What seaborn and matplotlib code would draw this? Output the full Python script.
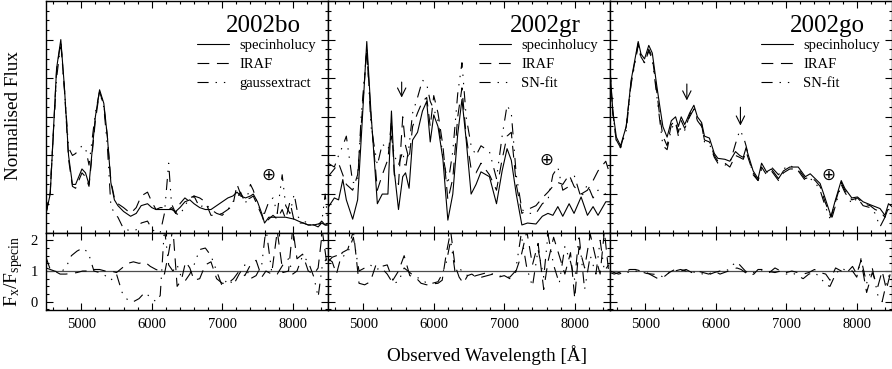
import numpy as np
import matplotlib
matplotlib.use("Agg")
import matplotlib.pyplot as plt
import seaborn as sns
from matplotlib.ticker import MultipleLocator, FixedLocator


# ---- spectra (normalised flux) ----
wave_bo = [4500, 4560, 4650, 4710, 4760, 4820, 4875, 4920, 5010, 5060,
           5110, 5200, 5260, 5320, 5370, 5420, 5470, 5520, 5600, 5700,
           5780, 5850, 5940, 6000, 6060, 6120, 6180, 6240, 6280, 6340,
           6400, 6470, 6540, 6600, 6680, 6760, 6840, 6920, 7000, 7080,
           7150, 7210, 7260, 7330, 7400, 7440, 7500, 7560, 7600, 7660,
           7720, 7780, 7850, 7900, 7960, 8020, 8080, 8150, 8220, 8300,
           8360, 8410, 8460, 8500]
spec_bo = [0.10, 0.20, 0.85, 1.00, 0.76, 0.40, 0.25, 0.25, 0.33, 0.31,
           0.25, 0.60, 0.74, 0.67, 0.50, 0.26, 0.17, 0.14, 0.11, 0.085,
           0.10, 0.14, 0.15, 0.13, 0.12, 0.12, 0.12, 0.12, 0.12, 0.11,
           0.13, 0.16, 0.17, 0.15, 0.13, 0.12, 0.12, 0.14, 0.16, 0.18,
           0.19, 0.21, 0.19, 0.18, 0.19, 0.20, 0.16, 0.10, 0.05, 0.08,
           0.08, 0.08, 0.08, 0.08, 0.075, 0.07, 0.06, 0.05, 0.04, 0.04,
           0.045, 0.05, 0.04, 0.04]
iraf_bo = [0.10, 0.21, 0.84, 0.99, 0.75, 0.38, 0.24, 0.23, 0.31, 0.29,
           0.24, 0.58, 0.73, 0.66, 0.50, 0.27, 0.18, 0.15, 0.13, 0.10,
           0.13, 0.19, 0.21, 0.16, 0.12, 0.13, 0.13, 0.12, 0.13, 0.10,
           0.15, 0.18, 0.16, 0.19, 0.18, 0.16, 0.09, 0.09, 0.10, 0.12,
           0.14, 0.25, 0.20, 0.17, 0.18, 0.19, 0.14, 0.09, 0.05, 0.07,
           0.09, 0.07, 0.12, 0.07, 0.16, 0.06, 0.05, 0.05, 0.04, 0.04,
           0.04, 0.06, 0.04, 0.04]
gauss_bo = [0.10, 0.22, 0.80, 0.98, 0.75, 0.44, 0.40, 0.41, 0.45, 0.44,
            0.35, 0.62, 0.73, 0.65, 0.45, 0.14, 0.10, 0.08, 0.02, 0.01,
            0.015, 0.05, 0.06, 0.02, 0.00, 0.00, 0.10, 0.36, 0.15, 0.10,
            0.09, 0.14, 0.18, 0.19, 0.13, 0.15, 0.12, 0.10, 0.09, 0.12,
            0.16, 0.18, 0.21, 0.15, 0.25, 0.22, 0.15, 0.10, 0.10, 0.16,
            0.18, 0.10, 0.30, 0.14, 0.10, 0.20, 0.08, 0.06, 0.05, 0.04,
            0.03, 0.05, 0.20, 0.05]

wave_gr = [4500, 4590, 4650, 4710, 4760, 4850, 4920, 4970, 5050, 5110,
           5200, 5270, 5350, 5400, 5440, 5500, 5560, 5600, 5650, 5700,
           5770, 5840, 5900, 5950, 6000, 6060, 6130, 6200, 6270, 6340,
           6400, 6460, 6530, 6600, 6670, 6790, 6890, 6970, 7040, 7100,
           7170, 7250, 7330, 7450, 7540, 7620, 7690, 7760, 7830, 7920,
           7990, 8090, 8180, 8260, 8330, 8440, 8500]
spec_gr = [0.13, 0.18, 0.17, 0.275, 0.17, 0.07, 0.17, 0.48, 0.99, 0.62,
           0.15, 0.20, 0.20, 0.63, 0.32, 0.12, 0.29, 0.31, 0.23, 0.48,
           0.52, 0.63, 0.68, 0.47, 0.61, 0.55, 0.38, 0.065, 0.20, 0.51,
           0.69, 0.48, 0.20, 0.25, 0.315, 0.29, 0.15, 0.32, 0.435, 0.375,
           0.20, 0.04, 0.05, 0.045, 0.085, 0.10, 0.09, 0.135, 0.085, 0.15,
           0.10, 0.185, 0.09, 0.135, 0.09, 0.16, 0.16]
iraf_gr = [0.29, 0.33, 0.36, 0.30, 0.25, 0.22, 0.30, 0.55, 0.95, 0.60,
           0.22, 0.30, 0.38, 0.58, 0.30, 0.25, 0.60, 0.45, 0.38, 0.55,
           0.62, 0.68, 0.70, 0.55, 0.71, 0.62, 0.45, 0.17, 0.28, 0.60,
           0.75, 0.50, 0.33, 0.31, 0.36, 0.30, 0.22, 0.38, 0.50, 0.52,
           0.25, 0.10, 0.12, 0.14, 0.18, 0.21, 0.24, 0.26, 0.25, 0.30,
           0.24, 0.20, 0.22, 0.27, 0.32, 0.37, 0.30]
snfit_gr = [0.36, 0.34, 0.40, 0.45, 0.50, 0.26, 0.26, 0.60, 0.95, 0.55,
            0.35, 0.46, 0.43, 0.50, 0.40, 0.35, 0.42, 0.33, 0.45, 0.62,
            0.70, 0.79, 0.77, 0.68, 0.64, 0.58, 0.40, 0.25, 0.42, 0.72,
            0.88, 0.60, 0.45, 0.40, 0.45, 0.42, 0.28, 0.50, 0.66, 0.62,
            0.30, 0.12, 0.10, 0.10, 0.15, 0.17, 0.30, 0.34, 0.22, 0.24,
            0.30, 0.18, 0.25, 0.18, 0.22, 0.20, 0.22]

wave_go = [4500, 4540, 4590, 4650, 4730, 4800, 4900, 4940, 4990, 5050,
           5100, 5160, 5200, 5250, 5310, 5370, 5430, 5470, 5510, 5560,
           5630, 5690, 5740, 5800, 5840, 5910, 5980, 6030, 6130, 6200,
           6280, 6340, 6390, 6430, 6530, 6600, 6650, 6720, 6790, 6890,
           6960, 7050, 7170, 7270, 7340, 7410, 7480, 7550, 7635, 7690,
           7780, 7830, 7930, 8010, 8090, 8190, 8260, 8330, 8400, 8450,
           8500]
spec_go = [0.85, 0.63, 0.495, 0.45, 0.55, 0.79, 0.99, 0.925, 0.90, 0.97,
           0.93, 0.77, 0.67, 0.55, 0.495, 0.58, 0.60, 0.55, 0.60, 0.56,
           0.62, 0.66, 0.60, 0.57, 0.50, 0.49, 0.41, 0.385, 0.38, 0.37,
           0.42, 0.40, 0.39, 0.44, 0.32, 0.28, 0.36, 0.315, 0.33, 0.28,
           0.32, 0.34, 0.34, 0.29, 0.305, 0.28, 0.255, 0.18, 0.085, 0.16,
           0.27, 0.23, 0.18, 0.185, 0.16, 0.145, 0.135, 0.125, 0.09, 0.15,
           0.135]
iraf_go = [0.84, 0.62, 0.47, 0.44, 0.55, 0.78, 0.98, 0.91, 0.88, 0.95,
           0.91, 0.74, 0.62, 0.50, 0.45, 0.56, 0.58, 0.52, 0.58, 0.54,
           0.60, 0.64, 0.58, 0.55, 0.48, 0.47, 0.40, 0.37, 0.36, 0.34,
           0.40, 0.39, 0.38, 0.42, 0.31, 0.27, 0.34, 0.30, 0.32, 0.27,
           0.31, 0.33, 0.33, 0.28, 0.29, 0.27, 0.24, 0.16, 0.08, 0.15,
           0.26, 0.22, 0.17, 0.18, 0.15, 0.14, 0.12, 0.11, 0.08, 0.13,
           0.12]
snfit_go = [0.84, 0.62, 0.48, 0.44, 0.53, 0.77, 0.97, 0.90, 0.88, 0.94,
            0.90, 0.72, 0.60, 0.45, 0.43, 0.54, 0.57, 0.50, 0.55, 0.53,
            0.61, 0.65, 0.59, 0.56, 0.47, 0.46, 0.39, 0.36, 0.35, 0.36,
            0.46, 0.53, 0.50, 0.45, 0.30, 0.27, 0.33, 0.31, 0.34, 0.30,
            0.33, 0.35, 0.32, 0.27, 0.28, 0.26, 0.22, 0.14, 0.06, 0.13,
            0.25, 0.21, 0.15, 0.18, 0.14, 0.13, 0.10, 0.03, 0.08, 0.12,
            0.11]

# ---- flux ratios F_x / F_specin (lower panels) ----
ratio_wave = [4500, 4560, 4620, 4700, 4780, 4860, 4940, 5020, 5100, 5180,
              5260, 5340, 5420, 5500, 5580, 5660, 5740, 5820, 5900, 5980,
              6060, 6120, 6180, 6240, 6300, 6360, 6420, 6480, 6540, 6600,
              6680, 6760, 6840, 6920, 7000, 7080, 7160, 7240, 7320, 7400,
              7480, 7560, 7620, 7700, 7780, 7860, 7940, 8000, 8060, 8140,
              8220, 8300, 8360, 8420, 8480]
ratio_iraf_bo = [1.45, 1.05, 1.0, 0.9, 0.9, 0.92, 0.95, 1.0, 1.0, 1.05,
                 1.05, 1.0, 1.0, 0.95, 1.1, 1.25, 1.3, 1.25, 1.3, 1.15,
                 1.05, 1.0, 0.9, 1.6, 2.4, 0.5, 0.7, 1.3, 1.1, 0.7,
                 0.75, 1.2, 1.3, 0.75, 0.6, 0.6, 0.75, 1.0, 0.85, 1.2,
                 1.35, 0.8, 1.0, 0.9, 2.3, 0.95, 1.0, 2.4, 1.4, 1.55,
                 1.0, 0.9, 1.1, 2.3, 1.3]
ratio_gauss_bo = [1.1, 1.05, 1.0, 0.95, 1.1, 1.5, 1.65, 1.75, 1.6, 1.0,
                  0.95, 0.85, 0.7, 0.9, 0.3, 0.05, 0.0, 0.1, 0.3, 0.15,
                  0.0, 0.2, 2.4, 1.2, 1.0, 1.2, 0.8, 0.7, 0.9, 1.2,
                  1.7, 1.75, 1.5, 1.0, 0.5, 0.75, 0.55, 0.9, 1.2, 0.75,
                  0.85, 1.2, 2.4, 1.0, 0.9, 1.2, 1.4, 0.9, 1.0, 1.5,
                  1.3, 0.8, 0.15, 1.2, 1.4]
ratio_iraf_gr = [1.4, 1.3, 0.9, 1.6, 1.7, 2.3, 0.6, 0.55, 0.65, 1.2,
                 1.15, 1.2, 0.7, 1.0, 1.5, 0.85, 0.8, 0.6, 0.55, 0.58,
                 0.6, 0.7, 1.6, 2.3, 1.2, 0.8, 0.6, 0.85, 0.9, 0.8,
                 0.8, 0.85, 0.9, 0.8, 0.85, 0.75, 0.95, 1.5, 2.3, 1.2,
                 1.9, 0.4, 1.3, 2.1, 1.5, 0.9, 1.6, 0.1, 1.8, 1.1,
                 2.2, 1.4, 0.9, 2.3, 1.0]
ratio_snfit_gr = [1.3, 1.45, 1.5, 1.45, 1.6, 2.1, 1.0, 1.1, 1.2, 1.05,
                  1.1, 0.9, 0.6, 0.65, 1.1, 0.95, 0.8, 0.75, 0.6, 0.6,
                  0.65, 0.9, 1.3, 2.0, 1.0, 1.1, 0.95, 0.85, 0.8, 0.85,
                  0.9, 0.95, 0.9, 0.85, 0.8, 0.8, 1.0, 2.2, 1.1, 0.5,
                  1.7, 0.8, 2.2, 1.2, 0.6, 1.8, 1.3, 0.7, 2.2, 0.4,
                  1.5, 0.9, 2.0, 1.0, 1.2]
ratio_iraf_go = [1.0, 0.95, 0.9, 0.95, 1.05, 1.05, 1.0, 0.95, 0.85, 0.75,
                 0.8, 0.95, 1.05, 1.0, 1.05, 0.95, 1.0, 0.95, 0.9, 1.0,
                 0.9, 0.95, 1.0, 1.05, 1.1, 1.05, 0.95, 0.85, 0.9, 1.05,
                 1.05, 0.95, 1.1, 1.0, 0.95, 1.0, 0.95, 0.9, 0.95, 1.05,
                 0.95, 0.9, 0.7, 1.1, 1.0, 0.95, 1.15, 0.9, 1.35, 0.3,
                 0.95, 0.5, 1.0, 0.4, 0.95]
ratio_snfit_go = [0.95, 0.9, 0.95, 0.98, 0.95, 1.0, 0.98, 0.92, 0.9, 0.88,
                  0.8, 0.95, 1.0, 1.05, 1.0, 0.97, 0.95, 0.9, 0.88, 0.95,
                  1.0, 0.98, 1.05, 1.2, 1.3, 1.15, 1.0, 0.9, 0.95, 1.0,
                  1.05, 0.98, 0.95, 1.0, 0.9, 0.95, 0.85, 0.75, 0.9, 0.95,
                  0.8, 0.55, 0.5, 0.9, 1.1, 1.0, 1.0, 0.8, 1.4, 0.6,
                  1.1, 0.2, 0.0, 0.6, 1.0]

sn_names = ["2002bo", "2002gr", "2002go"]
third_labels = ["gaussextract", "SN-fit", "SN-fit"]
earth_pos = [(7650, 0.30), (7600, 0.375), (7600, 0.30)]
arrow_marks = [[], [(5545, 0.70, 0.78)], [(5590, 0.685, 0.77), (6350, 0.555, 0.65)]]

panels = [
    (wave_bo, spec_bo, iraf_bo, gauss_bo, ratio_iraf_bo, ratio_gauss_bo),
    (wave_gr, spec_gr, iraf_gr, snfit_gr, ratio_iraf_gr, ratio_snfit_gr),
    (wave_go, spec_go, iraf_go, snfit_go, ratio_iraf_go, ratio_snfit_go),
]

sns.set_theme(style="ticks")
plt.rcParams["font.family"] = ["Liberation Serif", "DejaVu Serif"]
plt.rcParams["mathtext.fontset"] = "custom"
plt.rcParams["mathtext.rm"] = "Liberation Serif"
plt.rcParams["mathtext.it"] = "Liberation Serif:italic"
plt.rcParams["lines.scale_dashes"] = False
plt.rcParams["text.color"] = "black"
plt.rcParams["axes.labelcolor"] = "black"

dash_iraf = (0, (8.5, 5.5))
dash_third = (0, (8, 5, 1, 5, 1, 5))
lw = 0.8

fig = plt.figure(figsize=(8.92, 3.69), dpi=100)
lefts = [46 / 892, 328 / 892, 610 / 892]
width = 282 / 892

for i, (wave, spec, iraf, third, r_iraf, r_third) in enumerate(panels):
    top = fig.add_axes([lefts[i], 0.3694, width, 0.628])
    bot = fig.add_axes([lefts[i], 0.160, width, 0.2094])

    sns.lineplot(x=wave, y=spec, ax=top, color="black", linewidth=lw,
                 errorbar=None, label="specinholucy")
    sns.lineplot(x=wave, y=iraf, ax=top, color="black", linewidth=lw,
                 linestyle=dash_iraf, errorbar=None, label="IRAF")
    sns.lineplot(x=wave, y=third, ax=top, color="black", linewidth=lw,
                 linestyle=dash_third, errorbar=None, label=third_labels[i])

    bot.axhline(1.0, color="0.3", linewidth=0.9, zorder=1)
    sns.lineplot(x=ratio_wave, y=r_iraf, ax=bot, color="black", linewidth=lw,
                 linestyle=dash_iraf, errorbar=None)
    sns.lineplot(x=ratio_wave, y=r_third, ax=bot, color="black", linewidth=lw,
                 linestyle=dash_third, errorbar=None)

    top.legend(frameon=False, loc="upper left", bbox_to_anchor=(0.535, 0.835),
               borderpad=0, borderaxespad=0, handlelength=2.2,
               handletextpad=0.7, labelspacing=0.4, fontsize=10.5)
    top.text(0.77, 0.89, sn_names[i], transform=top.transAxes,
             ha="center", va="center", fontsize=18)
    ex, ey = earth_pos[i]
    top.text(ex, ey, "\u2295", family="DejaVu Sans", fontsize=12,
             ha="center", va="center")
    for ax_x, tip, tail in arrow_marks[i]:
        top.annotate("", xy=(ax_x, tip), xytext=(ax_x, tail),
                     arrowprops=dict(arrowstyle="->,head_length=0.5,head_width=0.25",
                                     color="black", lw=0.8, shrinkA=0, shrinkB=0))

    for ax in (top, bot):
        ax.set_xlim(4500, 8500)
        ax.xaxis.set_major_locator(FixedLocator([5000, 6000, 7000, 8000]))
        ax.xaxis.set_minor_locator(MultipleLocator(200))
        ax.tick_params(which="both", direction="in", top=True, right=True,
                       colors="black", width=0.8)
        ax.tick_params(which="major", length=5)
        ax.tick_params(which="minor", length=2.5)
        ax.set_xlabel("")
        ax.set_ylabel("")
        for sp in ax.spines.values():
            sp.set_linewidth(1.0)
            sp.set_color("black")

    top.set_ylim(0, 1.2)
    top.yaxis.set_major_locator(MultipleLocator(0.2))
    top.yaxis.set_minor_locator(MultipleLocator(0.05))
    top.tick_params(labelbottom=False, labelleft=False)

    bot.set_ylim(-0.27, 2.25)
    bot.yaxis.set_major_locator(FixedLocator([0, 1, 2]))
    bot.yaxis.set_minor_locator(MultipleLocator(0.25))
    bot.tick_params(labelsize=10.5, pad=6)
    if i > 0:
        bot.tick_params(labelleft=False)

fig.text(14 / 892, 0.686, "Normalised Flux", rotation=90,
         ha="center", va="center", fontsize=13.8)
fig.text(14 / 892, 0.265, r"$\mathrm{F_x/F_{specin}}$", rotation=90,
         ha="center", va="center", fontsize=14)
fig.text(487 / 892, 0.038, "Observed Wavelength [\u00c5]",
         ha="center", va="center", fontsize=13.8)

fig.savefig("out.png", dpi=100)
